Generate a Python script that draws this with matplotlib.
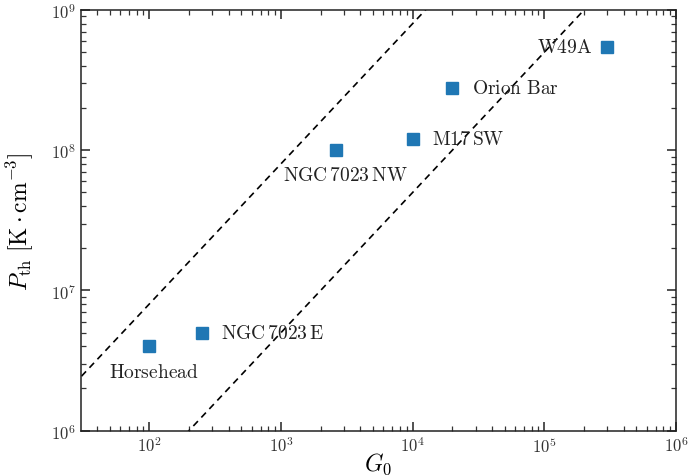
import matplotlib
matplotlib.use("Agg")
import matplotlib.pyplot as plt
import numpy as np

plt.rcParams['mathtext.fontset'] = 'cm'
plt.rcParams['font.family'] = 'serif'
plt.rcParams['font.serif'] = ['cmr10', 'DejaVu Serif']
plt.rcParams['axes.formatter.use_mathtext'] = True
plt.rcParams['axes.unicode_minus'] = False

names = ['Horsehead', 'NGC 7023 E', 'NGC 7023 NW', 'M17 SW', 'Orion Bar', 'W49A']
labels_tex = [r'$\mathrm{Horsehead}$', r'$\mathrm{NGC\,7023\,E}$', r'$\mathrm{NGC\,7023\,NW}$',
              r'$\mathrm{M17\,SW}$', r'$\mathrm{Orion\ Bar}$', r'$\mathrm{W49A}$']
G0 = [100, 250, 2630, 1.0e4, 2.0e4, 3.0e5]
Pth = [4.0e6, 5.0e6, 1.0e8, 1.2e8, 2.8e8, 5.4e8]
ratios = [8e4, 5e3]  # P_th / G0 dashed lines

# label offsets in points (dx, dy) and alignment
offsets = [((3.4, -18.5), 'center', 'center'),
           ((14, 0), 'left', 'center'),
           ((6.5, -18), 'center', 'center'),
           ((14, 0), 'left', 'center'),
           ((14, 0), 'left', 'center'),
           ((-10.5, 0), 'right', 'center')]

fig = plt.figure(figsize=(6.88, 4.77), dpi=100)
ax = fig.add_axes([0.1177, 0.095, 0.865, 0.882])

xx = np.logspace(1, 7, 200)
for r in ratios:
    ax.plot(xx, r * xx, 'k--', lw=1.2, dashes=(4, 3))

ax.plot(G0, Pth, 's', color='#1f77b4', ms=8.5, ls='none', zorder=3)
for x, y, lab, (off, ha, va) in zip(G0, Pth, labels_tex, offsets):
    ax.annotate(lab, (x, y), xytext=off, textcoords='offset points',
                ha=ha, va=va, fontsize=14, color='#222222')

ax.set_xscale('log')
ax.set_yscale('log')
ax.set_xlim(30.3, 1e6)
ax.set_ylim(1e6, 1e9)
ax.set_xlabel(r'$G_0$', fontsize=17, labelpad=-3)
ax.set_ylabel(r'$P_{\rm th}\ [\mathrm{K \cdot cm^{-3}}]$', fontsize=17, labelpad=11)
ax.tick_params(which='both', direction='in', top=True, right=True, labelsize=12, colors='#333333')
ax.tick_params(which='major', length=6.5, width=1.2)
ax.tick_params(which='minor', length=3.5, width=0.9)
for s in ax.spines.values():
    s.set_linewidth(1.1)
    s.set_color('#222222')

fig.savefig('out.png', dpi=100)
